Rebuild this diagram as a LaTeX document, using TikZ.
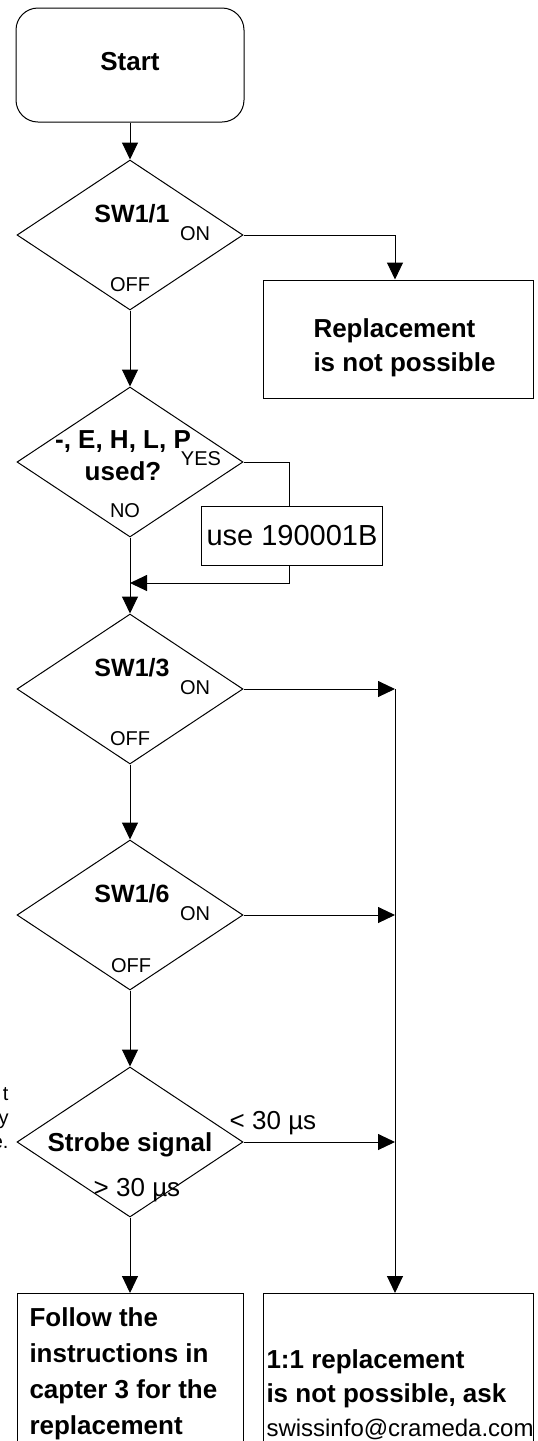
\documentclass[tikz,border=0pt]{standalone}
\usepackage{fontspec}
\setmainfont{Liberation Sans}
\usetikzlibrary{shapes.geometric,arrows.meta}

\begin{document}
\begin{tikzpicture}[x=1pt, y=-1pt, line width=1pt, >={Triangle[width=16pt,length=17pt]},
  decision/.style={draw, diamond, minimum width=226pt, minimum height=150pt, inner sep=0pt},
  block/.style={draw, rectangle, inner sep=0pt},
  title/.style={font=\fontsize{26}{32}\selectfont\bfseries, inner sep=0pt},
  lab/.style={font=\fontsize{20}{24}\selectfont, inner sep=0pt}]
\useasboundingbox (0,0) rectangle (538,1441);
\node[block, rounded corners=22pt, minimum width=228pt, minimum height=114pt] (start) at (130,65) {};
\node[title] (tstart) at (130,62) {Start};

\node[decision] (d1) at (130,235) {};
\node[title, font=\fontsize{25}{30}\selectfont\bfseries] (t1) at (132,214) {SW1/1};
\node[lab] (on1) at (195,234) {ON};
\node[lab] (off1) at (130,285) {OFF};
\node[block, minimum width=270pt, minimum height=118pt] (repl) at (398,339) {};
\node[title, align=left, anchor=north west, font=\fontsize{26}{34}\selectfont\bfseries] (trepl) at (313,318) {Replacement\\is not possible};

\node[decision] (d2) at (130,462) {};
\node[title, align=center] (t2) at (123,456) {-, E, H, L, P\\used?};
\node[lab] (yes2) at (201,459) {YES};
\node[lab] (no2) at (125,511) {NO};
\node[block, minimum width=181pt, minimum height=59pt, font=\fontsize{29}{34}\selectfont] (use) at (292,536) {use 190001B};
\coordinate (join) at (130,583);

\node[decision] (d3) at (130,689) {};
\node[title, font=\fontsize{25}{30}\selectfont\bfseries] (t3) at (132,668) {SW1/3};
\node[lab] (on3) at (195,688) {ON};
\node[lab] (off3) at (130,739) {OFF};

\node[decision] (d4) at (130,915) {};
\node[title, font=\fontsize{25}{30}\selectfont\bfseries] (t4) at (132,894) {SW1/6};
\node[lab] (on4) at (195,914) {ON};
\node[lab] (off4) at (131,966) {OFF};

\node[decision] (d5) at (130,1142) {};
\node[title] (t5) at (130,1145) {Strobe signal};
\node[title, font=\fontsize{26}{32}\selectfont] (lt5) at (273,1123) {< 30 µs};
\node[title, font=\fontsize{26}{32}\selectfont] (gt5) at (137,1190) {> 30 µs};
\node[lab, align=right, anchor=east] (cut) at (9,1118) {t\\y\\e.};

\coordinate (b3) at (395,689);
\coordinate (b4) at (395,915);
\coordinate (b5) at (395,1142);

\node[block, anchor=north, minimum width=226pt, minimum height=200pt] (follow) at (130,1293) {};
\node[title, align=left, anchor=north west, font=\fontsize{26}{36}\selectfont\bfseries] (tfollow) at (29,1307) {Follow the\\instructions in\\capter 3 for the\\replacement};
\node[block, anchor=north, minimum width=270pt, minimum height=200pt] (fail) at (398,1293) {};
\node[title, align=left, anchor=north west, font=\fontsize{26}{34}\selectfont\bfseries] (tfail) at (266,1349) {1:1 replacement\\is not possible, ask\\{\fontsize{24}{34}\selectfont\mdseries swissinfo@crameda.com}};

\draw[->] (start) -- (d1);
\draw[->] (d1.east) -| ([xshift=-3pt]repl.north);
\draw[->] (d1) -- (d2);
\draw (d2.east) -| ([xshift=-3pt]use.north);
\draw[->] ([xshift=-3pt]use.south) |- (join);
\draw[->] (d2) -- (d3);
\draw[->] (d3.east) -- (b3);
\draw[->] (d3) -- (d4);
\draw[->] (d4.east) -- (b4);
\draw[->] (d4) -- (d5);
\draw[->] (d5.east) -- (b5);
\draw[->] (d5) -- (follow);
\draw[->] (b3) -- (b3 |- fail.north);
\end{tikzpicture}
\end{document}
